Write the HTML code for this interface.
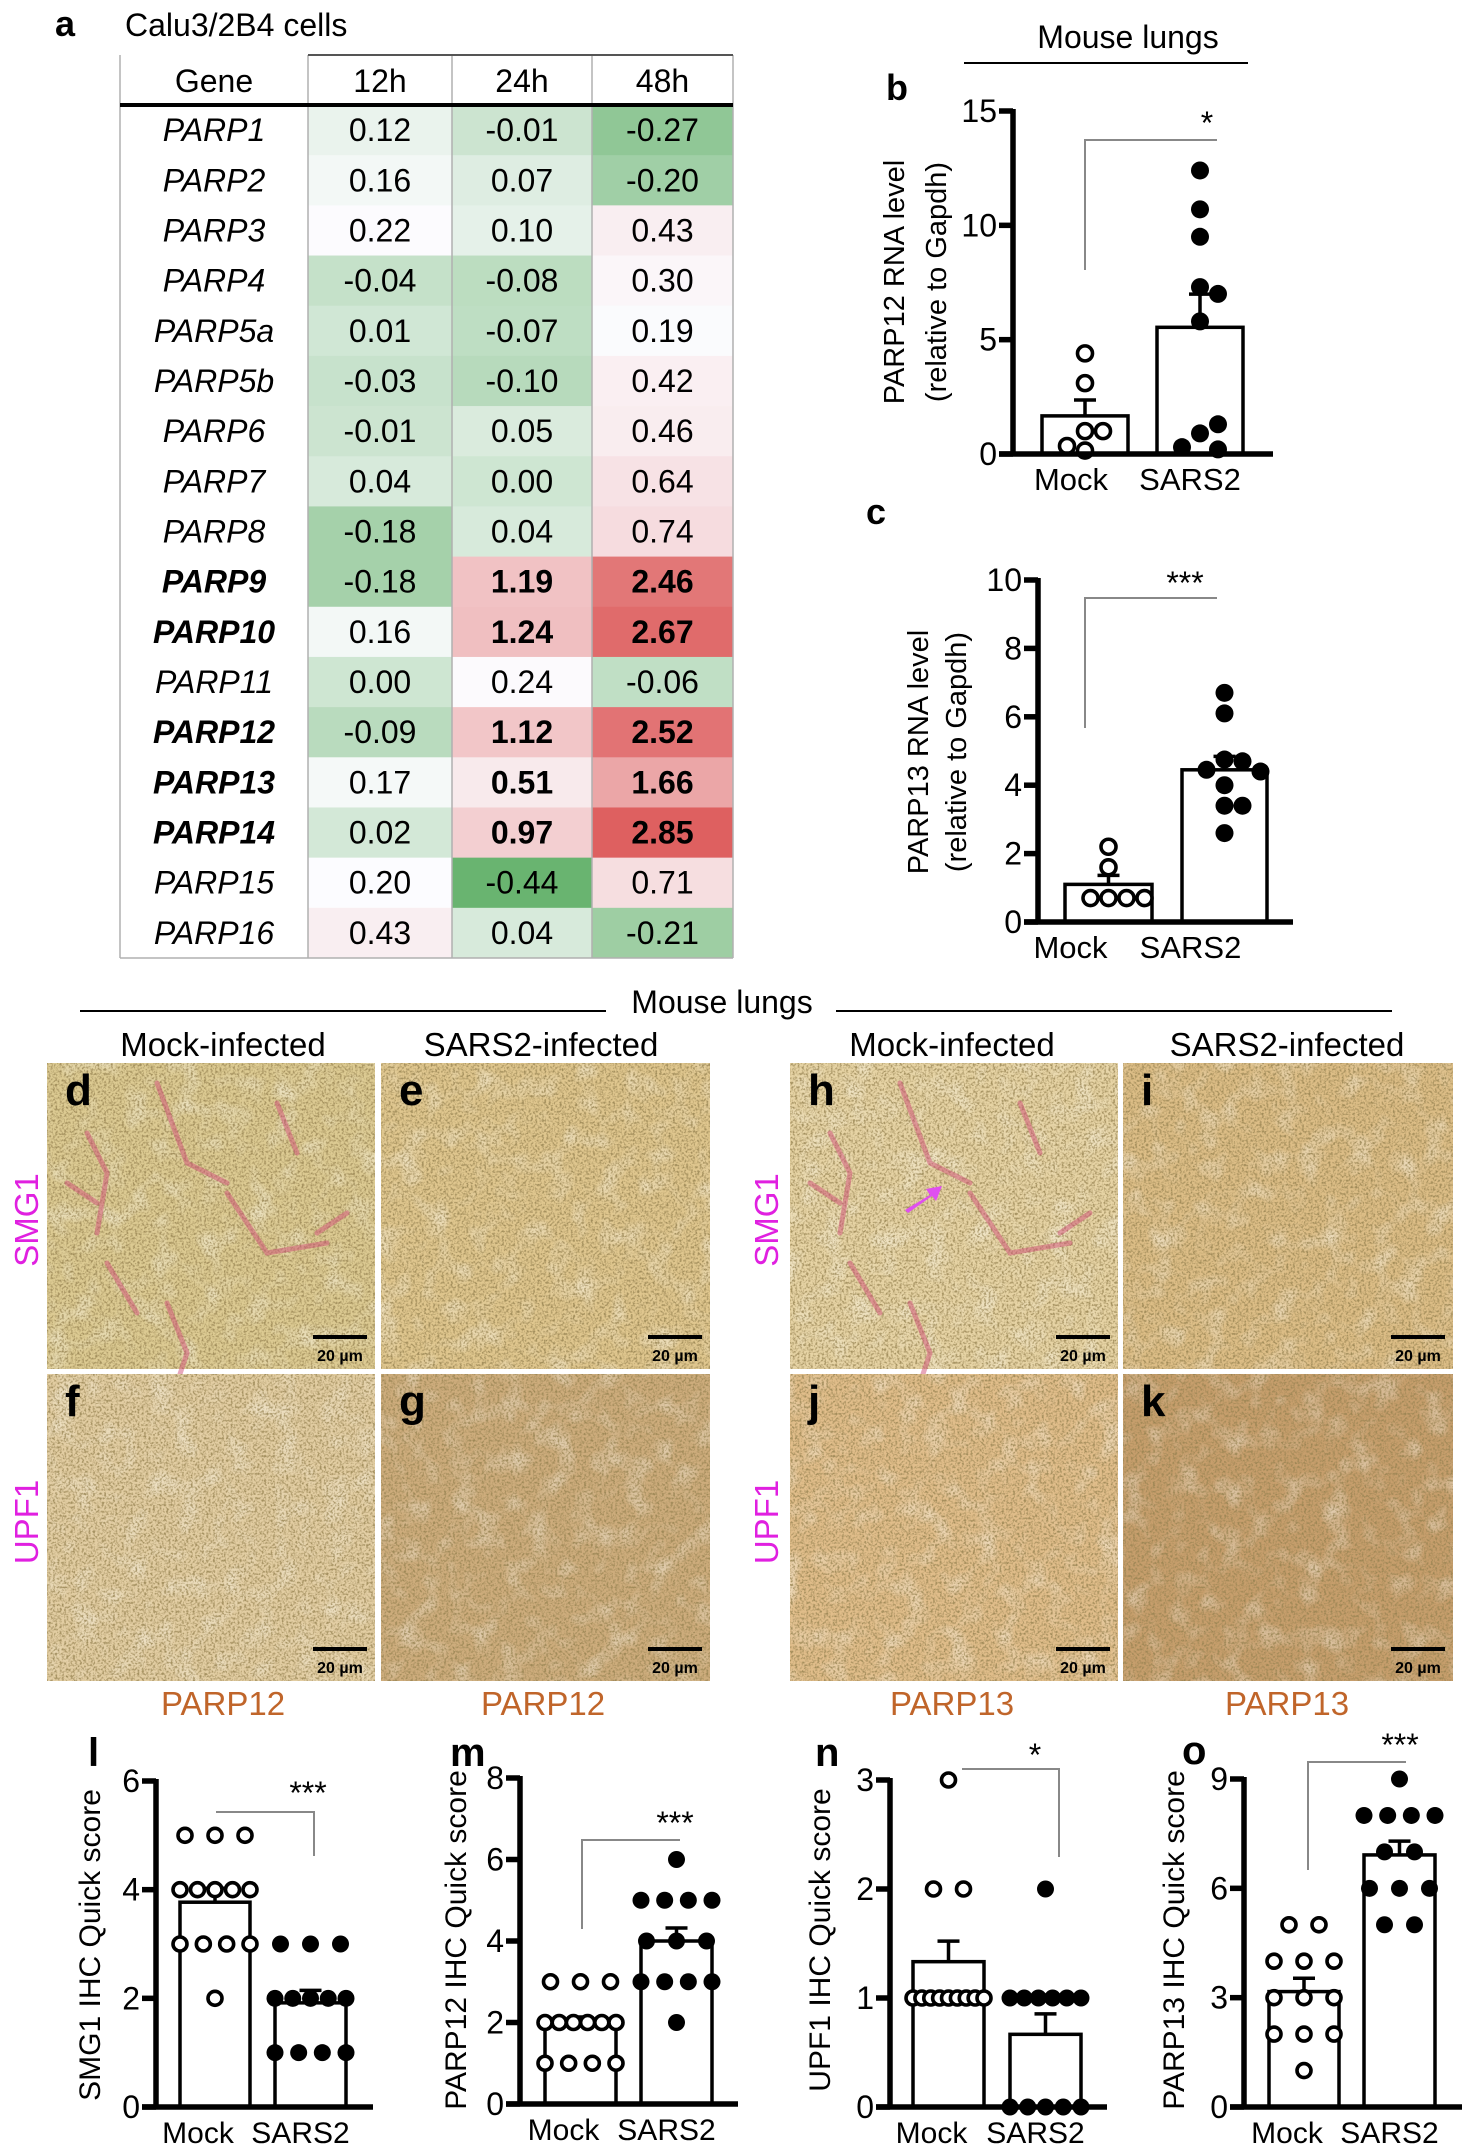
<!DOCTYPE html>
<html><head><meta charset="utf-8"><title>PARP figure</title>
<style>
html,body{margin:0;padding:0;background:#fff;}
svg{display:block;font-family:"Liberation Sans",Arial,sans-serif;}
</style></head>
<body>
<svg id="fig" width="1474" height="2152" viewBox="0 0 1474 2152" xmlns="http://www.w3.org/2000/svg">
<defs>
<filter id="speck" x="0" y="0" width="1" height="1" filterUnits="objectBoundingBox">
<feTurbulence type="fractalNoise" baseFrequency="0.45" numOctaves="2" seed="4" result="n"/>
<feColorMatrix in="n" type="matrix" values="0 0 0 0 0.30  0 0 0 0 0.22  0 0 0 0 0.08  3.2 0 0 0 -1.4" result="c"/>
<feComposite in="c" in2="SourceGraphic" operator="in"/>
</filter>
<filter id="blob" x="0" y="0" width="1" height="1" filterUnits="objectBoundingBox">
<feTurbulence type="fractalNoise" baseFrequency="0.04" numOctaves="2" seed="9" result="n"/>
<feColorMatrix in="n" type="matrix" values="0 0 0 0 1  0 0 0 0 1  0 0 0 0 0.95  2.4 0 0 0 -1.15" result="c"/>
<feComposite in="c" in2="SourceGraphic" operator="in"/>
</filter>
</defs>
<g id="static">
<text x="55" y="36" font-size="36" font-weight="bold">a</text>
<text x="125" y="36" font-size="32">Calu3/2B4 cells</text>
<text x="1128" y="48" font-size="32" text-anchor="middle">Mouse lungs</text>
<line x1="964" y1="63" x2="1248" y2="63" stroke="#000" stroke-width="2"/>
<text x="886" y="100" font-size="36" font-weight="bold">b</text>
<text x="866" y="524" font-size="36" font-weight="bold">c</text>
<text x="722" y="1013" font-size="32" text-anchor="middle">Mouse lungs</text>
<line x1="80" y1="1011" x2="606" y2="1011" stroke="#000" stroke-width="2"/>
<line x1="836" y1="1011" x2="1392" y2="1011" stroke="#000" stroke-width="2"/>
<text x="223" y="1056" font-size="33" text-anchor="middle">Mock-infected</text>
<text x="541" y="1056" font-size="33" text-anchor="middle">SARS2-infected</text>
<text x="952" y="1056" font-size="33" text-anchor="middle">Mock-infected</text>
<text x="1287" y="1056" font-size="33" text-anchor="middle">SARS2-infected</text>
<text transform="translate(38,1220) rotate(-90)" font-size="33" fill="#e020e0" text-anchor="middle">SMG1</text>
<text transform="translate(38,1522) rotate(-90)" font-size="33" fill="#e020e0" text-anchor="middle">UPF1</text>
<text transform="translate(778,1220) rotate(-90)" font-size="33" fill="#e020e0" text-anchor="middle">SMG1</text>
<text transform="translate(778,1522) rotate(-90)" font-size="33" fill="#e020e0" text-anchor="middle">UPF1</text>
<text x="223" y="1715" font-size="33" fill="#c0652a" text-anchor="middle">PARP12</text>
<text x="543" y="1715" font-size="33" fill="#c0652a" text-anchor="middle">PARP12</text>
<text x="952" y="1715" font-size="33" fill="#c0652a" text-anchor="middle">PARP13</text>
<text x="1287" y="1715" font-size="33" fill="#c0652a" text-anchor="middle">PARP13</text>
<text x="88" y="1766" font-size="40" font-weight="bold">l</text>
<text x="450" y="1766" font-size="40" font-weight="bold">m</text>
<text x="815" y="1766" font-size="40" font-weight="bold">n</text>
<text x="1182" y="1764" font-size="40" font-weight="bold">o</text>
</g>
<g id="table"></g>
<g id="images"></g>
<g id="charts"></g>
</svg>
<script>
// ===== Heatmap table data =====
const genes = ["PARP1","PARP2","PARP3","PARP4","PARP5a","PARP5b","PARP6","PARP7","PARP8","PARP9","PARP10","PARP11","PARP12","PARP13","PARP14","PARP15","PARP16"];
const timepoints = ["12h","24h","48h"];
const val12h = [0.12,0.16,0.22,-0.04,0.01,-0.03,-0.01,0.04,-0.18,-0.18,0.16,0.00,-0.09,0.17,0.02,0.20,0.43];
const val24h = [-0.01,0.07,0.10,-0.08,-0.07,-0.10,0.05,0.00,0.04,1.19,1.24,0.24,1.12,0.51,0.97,-0.44,0.04];
const val48h = [-0.27,-0.20,0.43,0.30,0.19,0.42,0.46,0.64,0.74,2.46,2.67,-0.06,2.52,1.66,2.85,0.71,-0.21];
const boldGenes = ["PARP9","PARP10","PARP12","PARP13","PARP14"];

// ===== Bar chart data =====
const groupLabels = ["Mock","SARS2"];
const bTicks = [0,5,10,15];
const bMock = [4.4,3.1,1.0,1.0,0.15,0.35];
const bSars = [12.4,10.7,9.5,7.3,7.0,5.8,0.9,1.3,0.2,0.3];
const cTicks = [0,2,4,6,8,10];
const cMock = [2.2,1.6,0.7,0.7,0.7,0.7];
const cSars = [6.7,6.1,4.75,4.7,4.45,4.4,4.0,3.4,3.4,2.6];
const lTicks = [0,2,4,6];
const lMock = [5,5,5,4,4,4,4,4,3,3,3,3,2];
const lSars = [3,3,3,2,2,2,2,2,1,1,1,1];
const mTicks = [0,2,4,6,8];
const mMock = [3,3,3,2,2,2,2,2,2,1,1,1,1];
const mSars = [6,5,5,5,5,4,4,4,3,3,3,3,2];
const nTicks = [0,1,2,3];
const nMock = [3,2,2,1,1,1,1,1,1,1,1,1];
const nSars = [2,1,1,1,1,1,1,0,0,0,0,0];
const oTicks = [0,3,6,9];
const oMock = [5,5,4,4,4,3,3,3,2,2,2,1];
const oSars = [9,8,8,8,8,7,7,6,6,6,5,5];

const NS = "http://www.w3.org/2000/svg";
function mk(parent, tag, attrs, txt){
  const e = document.createElementNS(NS, tag);
  for (const k in attrs) e.setAttribute(k, attrs[k]);
  if (txt !== undefined) e.textContent = txt;
  parent.appendChild(e);
  return e;
}

// ===== Table =====
(function(){
  const g = document.getElementById('table');
  const colX = [120,308,452,592,733];
  const top = 55, headBot = 105, rowH = (958-105)/17;
  const all = val12h.concat(val24h, val48h);
  const vmin = Math.min(...all), vmax = Math.max(...all), mid = 0.2;
  const W=[252,252,255], G=[105,180,112], R=[222,96,96];
  function col(v){
    let t, c;
    if (v <= mid){ t=(mid-v)/(mid-vmin); c=G; } else { t=(v-mid)/(vmax-mid); c=R; }
    return 'rgb('+W.map((w,i)=>Math.round(w+(c[i]-w)*t)).join(',')+')';
  }
  const series = [val12h,val24h,val48h];
  for (let r=0;r<genes.length;r++){
    const y = headBot + r*rowH;
    const isB = boldGenes.indexOf(genes[r])>=0;
    for (let c=0;c<3;c++){
      const v = series[c][r];
      const cell = mk(g,'rect',{x:colX[c+1], y:y, width:colX[c+2]-colX[c+1], height:rowH+0.5, fill:col(v)});
      
      
      const tv = mk(g,'text',{x:(colX[c+1]+colX[c+2])/2, y:y+rowH/2+11, 'font-size':32, 'font-weight':(isB&&c>0)?'bold':'normal', 'text-anchor':'middle'}, v.toFixed(2));
      
      
    }
    const gt = mk(g,'text',{x:(colX[0]+colX[1])/2, y:y+rowH/2+11, 'font-size':32, 'font-style':'italic', 'font-weight':isB?'bold':'normal', 'text-anchor':'middle'}, genes[r]);
    
    
  }
  const hg = mk(g,'text',{x:(colX[0]+colX[1])/2, y:92, 'font-size':32, 'text-anchor':'middle'}, 'Gene');
  
  
  for (let c=0;c<3;c++){
    const h = mk(g,'text',{x:(colX[c+1]+colX[c+2])/2, y:92, 'font-size':32, 'text-anchor':'middle'}, timepoints[c]);
    
    
  }
  for (let i=0;i<colX.length;i++){
    const l = mk(g,'line',{x1:colX[i], y1:top, x2:colX[i], y2:958, stroke:'#b0b0b0', 'stroke-width':1.5});
    
    
  }
  const tl = mk(g,'line',{x1:colX[1], y1:top, x2:colX[4], y2:top, stroke:'#555', 'stroke-width':2});
  
  
  const hl = mk(g,'line',{x1:colX[0], y1:headBot, x2:colX[4], y2:headBot, stroke:'#000', 'stroke-width':4});
  
  
  const bl = mk(g,'line',{x1:colX[0], y1:958, x2:colX[4], y2:958, stroke:'#b0b0b0', 'stroke-width':1.5});
  
  
})();

// ===== Micrographs =====
(function(){
  const g = document.getElementById('images');
  const panels = [
    {id:'d', x:47, y:1063, w:328, h:306, base:'#dcca92', pink:true},
    {id:'e', x:381, y:1063, w:329, h:306, base:'#dfc68e', pink:false},
    {id:'f', x:47, y:1374, w:328, h:307, base:'#e2cda2', pink:false},
    {id:'g', x:381, y:1374, w:329, h:307, base:'#cdac7c', pink:false},
    {id:'h', x:790, y:1063, w:328, h:306, base:'#e6d3a4', pink:true},
    {id:'i', x:1123, y:1063, w:330, h:306, base:'#dcbd86', pink:false},
    {id:'j', x:790, y:1374, w:328, h:307, base:'#e0bd8a', pink:false},
    {id:'k', x:1123, y:1374, w:330, h:307, base:'#c69e6c', pink:false}
  ];
  panels.forEach(p=>{
    const pg = mk(g,'g',{});
    
    
    mk(pg,'rect',{x:p.x,y:p.y,width:p.w,height:p.h,fill:p.base});
    mk(pg,'rect',{x:p.x,y:p.y,width:p.w,height:p.h,fill:'#fff',filter:'url(#blob)',opacity:0.45});
    mk(pg,'rect',{x:p.x,y:p.y,width:p.w,height:p.h,fill:'#000',filter:'url(#speck)',opacity:0.8});
    if (p.pink){
      const paths = ['M40 70 l20 40 l-10 60','M110 20 l30 80 l40 20','M180 130 l40 60 l60 -10','M60 200 l30 50','M230 40 l20 50','M120 240 l20 50 l-10 30','M270 170 l30 -20','M20 120 l30 20'];
      paths.forEach(d=>{
        mk(pg,'path',{d:d, transform:'translate('+p.x+','+p.y+')', stroke:'#cf5078', 'stroke-width':5, fill:'none', opacity:0.5, 'stroke-linecap':'round'});
      });
    }
    const lt = mk(pg,'text',{x:p.x+18, y:p.y+42, 'font-size':44, 'font-weight':'bold'}, p.id);
    
    
    const sb = mk(pg,'line',{x1:p.x+p.w-62, y1:p.y+p.h-32, x2:p.x+p.w-8, y2:p.y+p.h-32, stroke:'#000', 'stroke-width':4});
    
    
    const st = mk(pg,'text',{x:p.x+p.w-35, y:p.y+p.h-8, 'font-size':16, 'font-weight':'bold', 'text-anchor':'middle'}, '20 µm');
    
    
  });
  const ar = mk(g,'path',{d:'M905 1210 L930 1195 L926 1189 L942 1186 L936 1201 L932 1196 L908 1213 Z', fill:'#e050f0'});
  
  
})();

// ===== Bar charts =====
function mean(a){ return a.reduce((s,v)=>s+v,0)/a.length; }
function sem(a){ const m=mean(a); const sd=Math.sqrt(a.reduce((s,v)=>s+(v-m)*(v-m),0)/(a.length-1)); return sd/Math.sqrt(a.length); }

function drawChart(cfg){
  const g = mk(document.getElementById('charts'),'g',{});
  
  
  const tmax = cfg.ticks[cfg.ticks.length-1];
  const yS = v => cfg.y0 - (v/tmax)*(cfg.y0-cfg.yTop);
  const groups = [cfg.mock, cfg.sars];
  groups.forEach((arr,gi)=>{
    const [bx1,bx2] = cfg.bars[gi];
    const cx = (bx1+bx2)/2;
    const m = mean(arr), s = sem(arr);
    const bar = mk(g,'rect',{x:bx1, y:yS(m), width:bx2-bx1, height:cfg.y0-yS(m), fill:'#fff', stroke:'#000', 'stroke-width':3.5});
    
    
    const eb = mk(g,'path',{d:'M'+cx+' '+yS(m)+' V'+yS(m+s)+' M'+(cx-11)+' '+yS(m+s)+' H'+(cx+11), stroke:'#000', 'stroke-width':3.5, fill:'none'});
    
    
    let pos = [];
    if (cfg.discrete){
      const rows = {};
      arr.forEach(v=>{ (rows[v]=rows[v]||[]).push(v); });
      Object.keys(rows).forEach(k=>{
        const n = rows[k].length;
        const sp = n>1 ? Math.min(30, (bx2-bx1)/(n-1)) : 0;
        rows[k].forEach((v,i)=>pos.push([cx+(i-(n-1)/2)*sp, yS(v), v]));
      });
    } else {
      const placed = [];
      arr.forEach(v=>{
        const py = yS(v);
        const cand = [0,18,-18,36,-36,54,-54];
        let px = cx;
        for (const d of cand){
          const ok = placed.every(p=>Math.hypot(p[0]-(cx+d), p[1]-py) >= 17);
          if (ok){ px = cx+d; break; }
        }
        placed.push([px,py]);
        pos.push([px,py,v]);
      });
    }
    pos.forEach(p=>{
      const c = gi===0
        ? mk(g,'circle',{cx:p[0], cy:p[1], r:cfg.r-1.5, fill:'#fff', stroke:'#000', 'stroke-width':3.6})
        : mk(g,'circle',{cx:p[0], cy:p[1], r:cfg.r, fill:'#000'});
      
      
    });
    const gl = mk(g,'text',{x:cx+cfg.labelDx[gi], y:cfg.y0+36, 'font-size':cfg.labelSize, 'text-anchor':'middle'}, groupLabels[gi]);
    
    
  });
  const ya = mk(g,'line',{x1:cfg.ax, y1:cfg.y0+2, x2:cfg.ax, y2:yS(tmax)-2, stroke:'#000', 'stroke-width':5.5});
  
  
  const xa = mk(g,'line',{x1:cfg.ax-14, y1:cfg.y0, x2:cfg.xEnd, y2:cfg.y0, stroke:'#000', 'stroke-width':5.5});
  
  
  cfg.ticks.forEach(t=>{
    const tk = mk(g,'line',{x1:cfg.ax-14, y1:yS(t), x2:cfg.ax, y2:yS(t), stroke:'#000', 'stroke-width':5.5});
    
    
    const tl = mk(g,'text',{x:cfg.ax-16, y:yS(t)+11, 'font-size':32, 'text-anchor':'end'}, String(t));
    
    
  });
  cfg.title.forEach((line,i)=>{
    const tt = mk(g,'text',{transform:'translate('+cfg.titleX[i]+','+cfg.titleY+') rotate(-90)', 'font-size':cfg.titleSize, 'text-anchor':'middle'}, line);
    
    
  });
  const br = cfg.bracket;
  const bp = mk(g,'path',{d:'M'+br.x1+' '+br.yl+' V'+br.y+' H'+br.x2+(br.yr?' V'+br.yr:''), stroke:'#888', 'stroke-width':2, fill:'none'});
  
  
  const sg = mk(g,'text',{x:br.sx, y:br.sy, 'font-size':32, 'text-anchor':'middle'}, br.stars);
  
  
}

drawChart({name:'chart-b-parp12-rna', ax:1013, y0:454, yTop:111, xEnd:1273, ticks:bTicks, mock:bMock, sars:bSars,
  bars:[[1042,1128],[1157,1243]], discrete:false, r:9, labelDx:[-14,-10], labelSize:31,
  title:['PARP12 RNA level','(relative to Gapdh)'], titleX:[904,946], titleY:282, titleSize:29,
  bracket:{x1:1085, x2:1217, y:140, yl:270, yr:null, sx:1207, sy:134, stars:'*'}});
drawChart({name:'chart-c-parp13-rna', ax:1038, y0:922, yTop:580, xEnd:1293, ticks:cTicks, mock:cMock, sars:cSars,
  bars:[[1065,1152],[1182,1267]], discrete:false, r:9, labelDx:[-38,-34], labelSize:31,
  title:['PARP13 RNA level','(relative to Gapdh)'], titleX:[928,966], titleY:752, titleSize:29,
  bracket:{x1:1085, x2:1217, y:598, yl:728, yr:null, sx:1185, sy:594, stars:'***'}});
drawChart({name:'chart-l-smg1', ax:156, y0:2107, yTop:1781, xEnd:373, ticks:lTicks, mock:lMock, sars:lSars,
  bars:[[180,250],[275,346]], discrete:true, r:8.5, labelDx:[-17,-10], labelSize:30,
  title:['SMG1 IHC Quick score'], titleX:[100], titleY:1945, titleSize:30,
  bracket:{x1:216, x2:314, y:1812, yl:1812, yr:1856, sx:308, sy:1804, stars:'***'}});
drawChart({name:'chart-m-parp12-ihc', ax:520, y0:2104, yTop:1778, xEnd:738, ticks:mTicks, mock:mMock, sars:mSars,
  bars:[[545,616],[641,712]], discrete:true, r:8.5, labelDx:[-17,-10], labelSize:30,
  title:['PARP12 IHC Quick score'], titleX:[466], titleY:1940, titleSize:30,
  bracket:{x1:582, x2:680, y:1840, yl:1929, yr:1840, sx:675, sy:1834, stars:'***'}});
drawChart({name:'chart-n-upf1', ax:890, y0:2107, yTop:1780, xEnd:1107, ticks:nTicks, mock:nMock, sars:nSars,
  bars:[[913,984],[1010,1081]], discrete:true, r:8.5, labelDx:[-17,-10], labelSize:30,
  title:['UPF1 IHC Quick score'], titleX:[830], titleY:1940, titleSize:30,
  bracket:{x1:962, x2:1059, y:1769, yl:1769, yr:1857, sx:1035, sy:1766, stars:'*'}});
drawChart({name:'chart-o-parp13-ihc', ax:1244, y0:2107, yTop:1779, xEnd:1462, ticks:oTicks, mock:oMock, sars:oSars,
  bars:[[1269,1339],[1364,1435]], discrete:true, r:8.5, labelDx:[-17,-10], labelSize:30,
  title:['PARP13 IHC Quick score'], titleX:[1184], titleY:1940, titleSize:30,
  bracket:{x1:1308, x2:1406, y:1762, yl:1870, yr:1762, sx:1400, sy:1756, stars:'***'}});
</script>
</body></html>
